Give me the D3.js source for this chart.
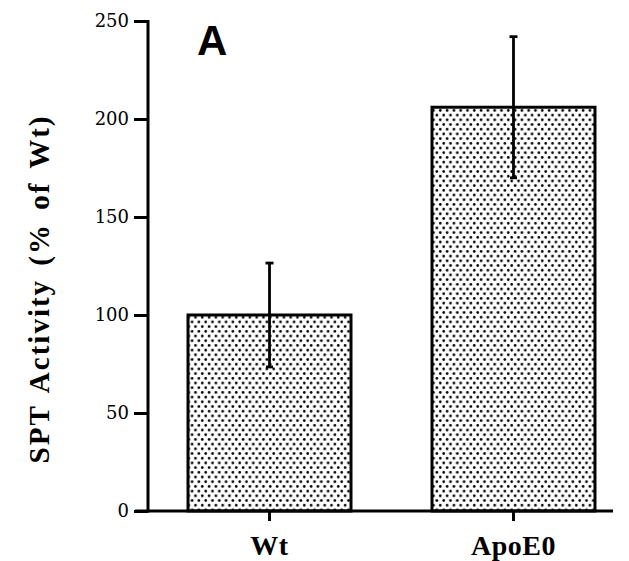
<!DOCTYPE html>
<html><head><meta charset="utf-8">
<script src="https://cdn.jsdelivr.net/npm/d3@7"></script>
<style>body{margin:0;background:#fff}svg{display:block}</style>
</head><body>
<svg id="c" width="629" height="561"></svg>
<script>
const categories = ["Wt", "ApoE0"];
const values = [100, 206];
const errors = [26.5, 36];
const yTicks = [0, 50, 100, 150, 200, 250];

const svg = d3.select("#c");
const defs = svg.append("defs");
const pat = defs.append("pattern").attr("id","dots").attr("patternUnits","userSpaceOnUse")
  .attr("width",6.8).attr("height",9.4);
pat.append("rect").attr("width",6.8).attr("height",9.4).attr("fill","#fff");
pat.append("circle").attr("cx",1.7).attr("cy",2.3).attr("r",1.35).attr("fill","#000");
pat.append("circle").attr("cx",5.1).attr("cy",7.0).attr("r",1.35).attr("fill","#000");

const y = d3.scaleLinear().domain([0,250]).range([511,21]);
const x = d3.scaleBand().domain(categories).range([148,635]).paddingInner(0.332).paddingOuter(0.164);

// bars
svg.selectAll("rect.bar").data(categories).enter().append("rect")
  .attr("x", d=>x(d)).attr("width", x.bandwidth())
  .attr("y", (d,i)=>y(values[i])).attr("height",(d,i)=>y(0)-y(values[i]))
  .attr("fill","url(#dots)").attr("stroke","#000").attr("stroke-width",3);

// error bars
categories.forEach((c,i)=>{
  const cx = x(c)+x.bandwidth()/2;
  svg.append("line").attr("x1",cx).attr("x2",cx).attr("y1",y(values[i]+errors[i])).attr("y2",y(values[i]-errors[i]))
    .attr("stroke","#000").attr("stroke-width",2.8);
  svg.append("line").attr("x1",cx-4).attr("x2",cx+4).attr("y1",y(values[i]+errors[i])).attr("y2",y(values[i]+errors[i]))
    .attr("stroke","#000").attr("stroke-width",2.8);
  svg.append("line").attr("x1",cx-3.5).attr("x2",cx+3.5).attr("y1",y(values[i]-errors[i])).attr("y2",y(values[i]-errors[i]))
    .attr("stroke","#000").attr("stroke-width",2.8);
});

// y axis
const yAxis = d3.axisLeft(y).tickValues(yTicks).tickSize(14).tickPadding(5);
const gy = svg.append("g").attr("transform","translate(148,0)").call(yAxis);
gy.select(".domain").remove();
gy.selectAll(".tick line").attr("stroke","#000").attr("stroke-width",3);
gy.selectAll(".tick text").attr("font-family","'DejaVu Serif', serif").attr("font-size",18).attr("fill","#000");
svg.append("line").attr("x1",148).attr("x2",148).attr("y1",y(250)-1).attr("y2",y(0)+1.5).attr("stroke","#000").attr("stroke-width",3);

// x axis
svg.append("line").attr("x1",135).attr("x2",613).attr("y1",y(0)).attr("y2",y(0)).attr("stroke","#000").attr("stroke-width",3);
const xAxis = d3.axisBottom(x).tickSize(10).tickPadding(14);
const gx = svg.append("g").attr("transform",`translate(0,${y(0)})`).call(xAxis);
gx.select(".domain").remove();
gx.selectAll(".tick line").attr("stroke","#000").attr("stroke-width",3);
gx.selectAll(".tick text").attr("font-family","'Liberation Serif', serif").attr("font-weight","bold")
  .attr("font-size",28).attr("fill","#000").attr("letter-spacing","0.5");

// y label
svg.append("text").attr("transform","translate(49,289) rotate(-90)").attr("text-anchor","middle")
  .attr("font-family","'Liberation Serif', serif").attr("font-weight","bold").attr("font-size",29)
  .attr("letter-spacing","2").attr("word-spacing","4").text("SPT Activity (% of Wt)");

// panel letter
svg.append("text").attr("x",197).attr("y",55).attr("font-family","'Liberation Sans', Arial, sans-serif")
  .attr("font-weight","bold").attr("font-size",42).text("A");
</script>
</body></html>
